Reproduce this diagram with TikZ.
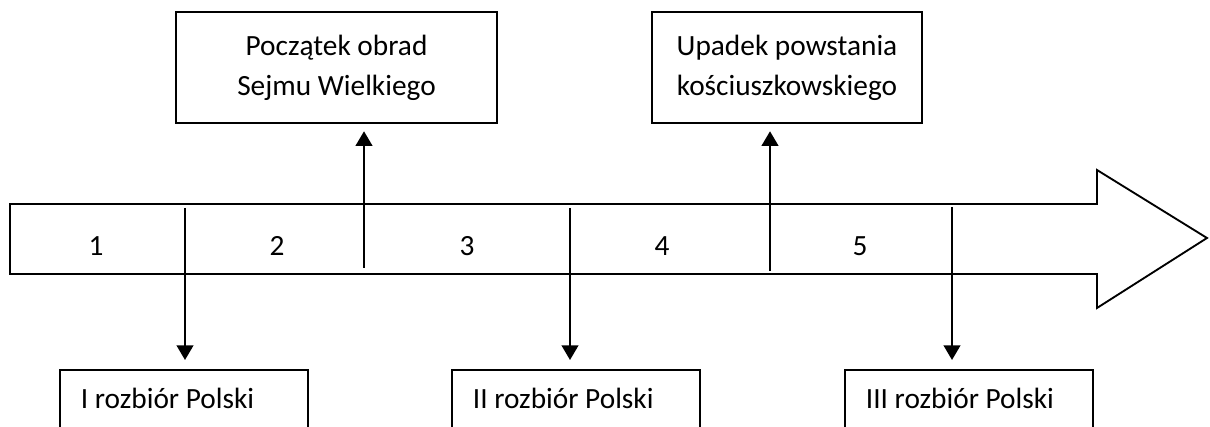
\documentclass[tikz,border=0pt]{standalone}
\usepackage{fontspec}
\setmainfont{Carlito}
\usepackage{tikz}
\usetikzlibrary{arrows.meta,positioning,calc}

\begin{document}
\begin{tikzpicture}[
    x=0.75pt, y=-0.75pt,
    font=\fontsize{22}{30}\selectfont,
    eventbox/.style={
      rectangle, draw=black, line width=1.4pt,
      minimum width=#1, minimum height=83.25pt,
      align=flush center, inner sep=0pt
    },
    lowbox/.style={
      rectangle, draw=black, line width=1.4pt, anchor=north west,
      inner xsep=15.75pt, inner ysep=0pt, text width=154.5pt,
      align=flush left, text height=29pt, text depth=45pt
    },
    timeline/.style={
      draw=black, line width=1.4pt, line join=miter
    },
    mark_up/.style={
      -{Triangle[width=12.5pt,length=11pt]}, line width=1.6pt,
      shorten >=5.5pt
    },
    mark_down/.style={
      -{Triangle[width=12.5pt,length=11pt]}, line width=1.6pt,
      shorten >=6.75pt
    }
  ]
  \useasboundingbox (0,0) rectangle (1210,427);

  % --- Timeline arrow ---
  \draw[timeline] (10,204) -- (1097,204) -- (1097,170) -- (1207,238)
    -- (1097,308) -- (1097,274) -- (10,274) -- cycle;

  \foreach \n/\x in {1/96, 2/277, 3/467, 4/662, 5/860}
    \node (num\n) at (\x,246) {\n};

  % --- Events above ---
  \node[eventbox=240.75pt] (sejm) at (336.5,67.5)
    {Początek obrad\\Sejmu Wielkiego};
  \node[eventbox=202.5pt] (upadek) at (787,67.5)
    {Upadek powstania\\kościuszkowskiego};

  % --- Events below ---
  \node[lowbox] (rozb1) at (59,369) {I rozbiór Polski};
  \node[lowbox] (rozb2) at (451,369) {II rozbiór Polski};
  \node[lowbox] (rozb3) at (844,369) {III rozbiór Polski};

  % --- Connectors ---
  \coordinate (c1) at (185,208);
  \coordinate (c2) at (364,268);
  \coordinate (c3) at (570,208);
  \coordinate (c4) at (770,271);
  \coordinate (c5) at (952,207);

  \draw[mark_down] (c1) -- (c1 |- rozb1.north);
  \draw[mark_up] (c2) -- (c2 |- sejm.south);
  \draw[mark_down] (c3) -- (c3 |- rozb2.north);
  \draw[mark_up] (c4) -- (c4 |- upadek.south);
  \draw[mark_down] (c5) -- (c5 |- rozb3.north);
\end{tikzpicture}
\end{document}
